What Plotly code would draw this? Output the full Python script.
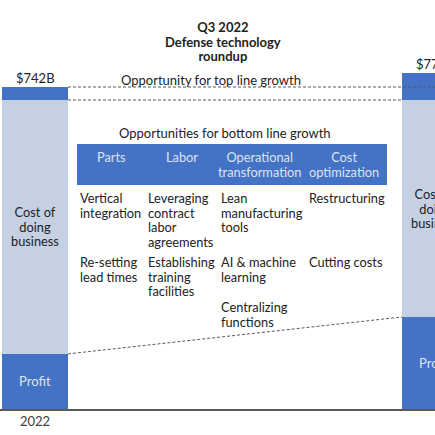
import plotly.graph_objects as go

# values ($B)
years = ["2022", "2023"]
profit = [127, 212]
cost_of_business = [585, 500]
top_line = [30, 63]
totals = [742, 775]

title_lines = ["Q3 2022", "Defense technology", "roundup"]
top_label = "Opportunity for top line growth"
bottom_label = "Opportunities for bottom line growth"
cost_label = ["Cost of", "doing", "business"]

table_headers = [["Parts"], ["Labor"], ["Operational", "transformation"], ["Cost", "optimization"]]
table_rows = [
    [["Vertical", "integration"], ["Leveraging", "contract", "labor", "agreements"],
     ["Lean", "manufacturing", "tools"], ["Restructuring"]],
    [["Re-setting", "lead times"], ["Establishing", "training", "facilities"],
     ["AI & machine", "learning"], ["Cutting costs"]],
    [[], [], ["Centralizing", "functions"], []],
]

DARK = "#4472C4"
LIGHT = "#C5D0E3"
TEXT = "#222222"
HEAD_TEXT = "#DCE4F2"
FONT = "Lato"

W, H = 435, 435
PLOT_BOTTOM = 409
LINE = 14.5
BAR_W = 0.165
hw = BAR_W / 2


# pixel position on the slide -> paper coords
def px_x(p):
    return p / W


def px_y(p):
    return (PLOT_BOTTOM - p) / PLOT_BOTTOM


# several lines in one text; line pitch comes from the outer font size,
# the glyph size from the inner span
def block(lines, size=12.8, bold=False):
    out = []
    for s in lines:
        if bold:
            s = "<b>" + s + "</b>"
        out.append('<span style="font-size:%spx">%s</span>' % (size, s))
    return "<br>".join(out)


fig = go.Figure()

fig.add_trace(go.Bar(x=[0, 1], y=profit, width=BAR_W, marker=dict(color=DARK, line_width=0),
                     text=["Profit"] * 2, textposition="inside", insidetextanchor="middle",
                     textfont=dict(family=FONT, size=13, color=HEAD_TEXT), hoverinfo="skip"))
fig.add_trace(go.Bar(x=[0, 1], y=cost_of_business, width=BAR_W, marker=dict(color=LIGHT, line_width=0),
                     hoverinfo="skip"))
fig.add_trace(go.Bar(x=[0, 1], y=top_line, width=BAR_W, marker=dict(color=DARK, line_width=0),
                     hoverinfo="skip"))

dash = dict(color="#595959", width=1, dash="3px,2px")
fig.add_trace(go.Scatter(x=[0 + hw, 1 + hw], y=[totals[0], totals[0]], mode="lines", line=dash, hoverinfo="skip"))
cost_top = profit[0] + cost_of_business[0]
fig.add_trace(go.Scatter(x=[0 + hw, 1 - hw], y=[cost_top, cost_top], mode="lines", line=dash, hoverinfo="skip"))
fig.add_trace(go.Scatter(x=[0 + hw, 1 - hw], y=profit, mode="lines", line=dash, hoverinfo="skip"))

annotations = []
line_font = LINE / 1.3


def add_block(x, y_first, lines, anchor="left", size=12.8, color=TEXT, bold=False):
    yc = y_first + (len(lines) - 1) * LINE / 2
    annotations.append(dict(x=px_x(x), y=px_y(yc), xref="paper", yref="paper",
                            text=block(lines, size, bold), showarrow=False, align=anchor,
                            xanchor=anchor, yanchor="middle",
                            font=dict(family=FONT, size=line_font, color=color)))


# totals above each bar and the cost label in the light segment
for i in range(2):
    annotations.append(dict(x=i, y=totals[i], xref="x", yref="y", text="$%dB" % totals[i],
                            showarrow=False, yanchor="bottom", yshift=-1,
                            font=dict(family=FONT, size=13, color=TEXT)))
    mid = profit[i] + cost_of_business[i] / 2
    annotations.append(dict(x=i, y=mid, xref="x", yref="y", text=block(cost_label),
                            showarrow=False, yanchor="middle",
                            font=dict(family=FONT, size=line_font, color=TEXT)))

add_block(223, 27, title_lines, anchor="center", size=13, bold=True)
add_block(211, 80, [top_label], anchor="center", size=13)
add_block(225, 133, [bottom_label], anchor="center", size=13)

# table header
header_centers = [111, 182, 259, 344]
for cx, lines in zip(header_centers, table_headers):
    add_block(cx, 157, lines, anchor="center", color=HEAD_TEXT)

col_left = [78, 146, 219, 307]
row_top = [198, 262, 307]
for ry, row in zip(row_top, table_rows):
    for cx, lines in zip(col_left, row):
        if lines:
            add_block(cx, ry, lines)

fig.update_layout(
    width=W, height=H,
    margin=dict(l=0, r=0, t=0, b=H - PLOT_BOTTOM, pad=0),
    barmode="stack",
    showlegend=False,
    hovermode=False,
    plot_bgcolor="white",
    paper_bgcolor="white",
    annotations=annotations,
    shapes=[dict(type="rect", xref="paper", yref="paper",
                 x0=px_x(77), x1=px_x(387), y0=px_y(185), y1=px_y(144),
                 fillcolor=DARK, line_width=0, layer="below")],
    xaxis=dict(range=[-0.0875, 1.0], tickvals=[0, 1], ticktext=years, showgrid=False, zeroline=False,
               showline=True, linecolor="#595959", linewidth=1.5, ticks="",
               tickfont=dict(family=FONT, size=13, color="#404040")),
    yaxis=dict(range=[0, 942.5], visible=False, showgrid=False, zeroline=False),
)

# the page body has an 8px default margin; drop it so the figure sits at 0,0
fig.write_html("out.html", config={"displayModeBar": False},
               post_script="document.body.style.margin='0px';")
